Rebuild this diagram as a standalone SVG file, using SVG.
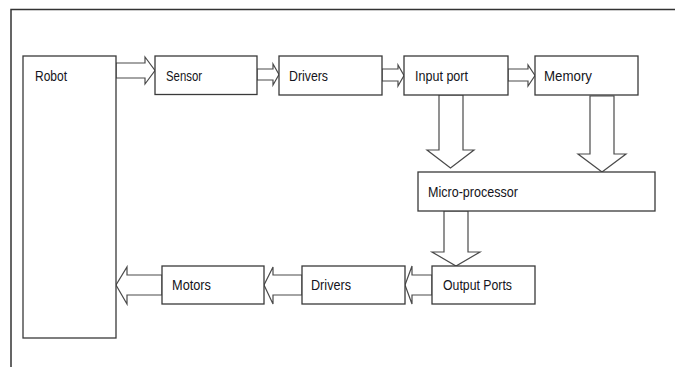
<svg xmlns="http://www.w3.org/2000/svg" width="675" height="367" viewBox="0 0 675 367">
<style>
.box{fill:#fff;stroke:#3a3a3a;stroke-width:1.3}
.arr{fill:#fff;stroke:#4a4a4a;stroke-width:1.2;stroke-linejoin:miter}
.lbl{font-family:"Liberation Sans",Arial,sans-serif;font-size:15px;fill:#141420}
.frame{fill:none;stroke:#333;stroke-width:1.5}
</style>
<rect width="675" height="367" fill="#fff"/>
<path class="frame" d="M11,367 V9.5 H675"/>
<g id="connectors">
<polygon class="arr" points="116,63 145,63 145,57 155,70.5 145,84 145,78 116,78"/>
<polygon class="arr" points="257,69 273,69 273,64 279,74.5 273,85 273,80 257,80"/>
<polygon class="arr" points="382,69 398,69 398,65 404,75.5 398,86 398,81 382,81"/>
<polygon class="arr" points="508,69 528,69 528,65 535,75.5 528,86 528,81 508,81"/>
<polygon class="arr" points="439,95 463,95 463,150 474,150 450.5,168 427,150 439,150"/>
<polygon class="arr" points="590,96 614,96 614,154 626,154 602,172 578,154 590,154"/>
<polygon class="arr" points="444,211 468,211 468,252 480,252 456,266 432,252 444,252"/>
<polygon class="arr" points="432,275 412,275 412,266 405,285 412,304 412,295 432,295"/>
<polygon class="arr" points="302,275 273,275 273,267 264,285 273,304 273,295 302,295"/>
<polygon class="arr" points="162,275 127,275 127,267 116,285 127,304 127,295 162,295"/>
</g>
<g id="robot"><rect class="box" x="23" y="56" width="93" height="282"/><text class="lbl" x="35" y="81" textLength="32" lengthAdjust="spacingAndGlyphs">Robot</text></g>
<g id="sensor"><rect class="box" x="155" y="56" width="102" height="38.5"/><text class="lbl" x="166" y="81" textLength="36" lengthAdjust="spacingAndGlyphs">Sensor</text></g>
<g id="drivers-in"><rect class="box" x="279" y="56" width="103" height="39"/><text class="lbl" x="289" y="81" textLength="39" lengthAdjust="spacingAndGlyphs">Drivers</text></g>
<g id="input-port"><rect class="box" x="404" y="56" width="104" height="39"/><text class="lbl" x="415" y="80.5" textLength="53" lengthAdjust="spacingAndGlyphs">Input port</text></g>
<g id="memory"><rect class="box" x="535" y="56" width="103" height="39"/><text class="lbl" x="544" y="81" textLength="48" lengthAdjust="spacingAndGlyphs">Memory</text></g>
<g id="micro-processor"><rect class="box" x="418" y="172" width="237" height="39"/><text class="lbl" x="428" y="197" textLength="90" lengthAdjust="spacingAndGlyphs">Micro-processor</text></g>
<g id="output-ports"><rect class="box" x="432" y="266" width="103" height="38"/><text class="lbl" x="443" y="289.5" textLength="69" lengthAdjust="spacingAndGlyphs">Output Ports</text></g>
<g id="drivers-out"><rect class="box" x="302" y="266" width="103" height="38"/><text class="lbl" x="311" y="289.5" textLength="40" lengthAdjust="spacingAndGlyphs">Drivers</text></g>
<g id="motors"><rect class="box" x="162" y="266" width="102" height="38"/><text class="lbl" x="172" y="289.5" textLength="39" lengthAdjust="spacingAndGlyphs">Motors</text></g>
</svg>
